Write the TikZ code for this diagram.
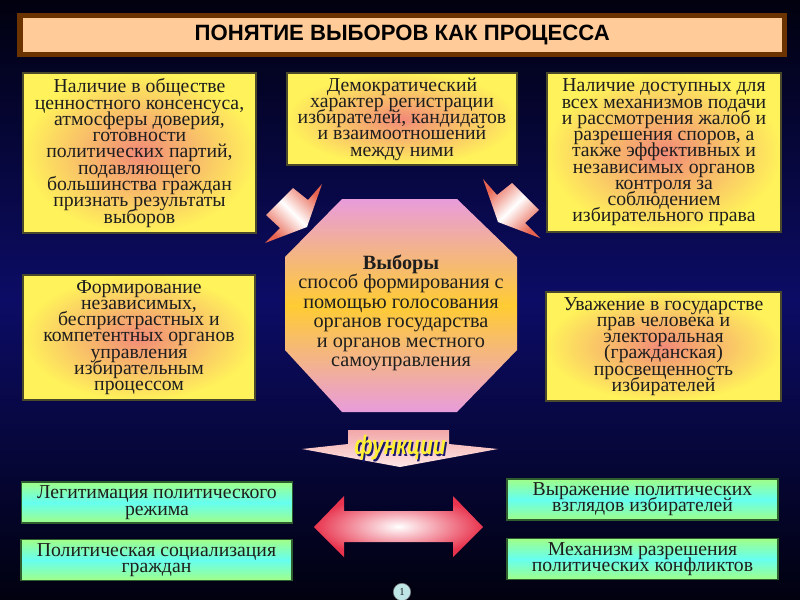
\documentclass[tikz,border=0pt]{standalone}
\usepackage{fontspec}
\setmainfont{Liberation Serif}
\setsansfont{Liberation Sans}
\usepackage{tikz}

\definecolor{bgdark}{HTML}{01010F}
\definecolor{bgnavy}{HTML}{0C0C66}
\definecolor{framebrown}{HTML}{6B3300}
\definecolor{peach}{HTML}{FFCC99}
\definecolor{boxyellow}{HTML}{FFF25A}
\definecolor{boxsalmon}{HTML}{F28A78}
\definecolor{boxedge}{HTML}{4A4A2A}
\definecolor{octpink}{HTML}{E89CDC}
\definecolor{octgold}{HTML}{FFCC33}
\definecolor{fngreen}{HTML}{A0FF88}
\definecolor{fncyan}{HTML}{66FFF0}
\definecolor{greenedge}{HTML}{2E5E2E}
\definecolor{arrowred}{HTML}{E8344E}
\definecolor{arrowsalmon}{HTML}{E86450}
\definecolor{bannerpink}{HTML}{F2A8A8}
\definecolor{bannerlight}{HTML}{FFE6E6}
\definecolor{fnyellow}{HTML}{FFF033}
\definecolor{fnnavy}{HTML}{1A1A70}
\definecolor{inktext}{HTML}{1E1E1E}
\definecolor{pagecyan}{HTML}{BFE6E6}

\newcommand{\boxfont}{\fontsize{14.8}{12.2}\selectfont\lineskiplimit=-50pt\relax}
\newcommand{\octfont}{\fontsize{15.2}{14.6}\selectfont\lineskiplimit=-50pt\relax}

\begin{document}
\begin{tikzpicture}[x=0.75pt, y=-0.75pt,
    every node/.style={inner sep=0pt, text=inktext},
    yellowbox/.style={draw=boxedge, line width=0.8pt, inner color=boxsalmon,
      outer color=boxyellow, align=center, font=\boxfont},
    greenbox/.style={draw=greenedge, line width=0.8pt, top color=fngreen,
      bottom color=fngreen, middle color=fncyan, align=center,
      minimum width=203.25pt, minimum height=30.75pt, font=\boxfont},
    smallarrow/.style={top color=arrowsalmon, bottom color=arrowsalmon, middle color=white}]
    \useasboundingbox (0, 0) rectangle (800, 600);
    \shade [top color=bgdark, bottom color=bgdark, middle color=bgnavy] (0, 0) rectangle (800, 600);

    \node [draw=framebrown, line width=4.1pt, fill=peach, minimum width=573.4pt,
      minimum height=29.25pt, text=black, font=\sffamily\bfseries\fontsize{16.6}{16.6}\selectfont]
      (title) at (402.25, 35) {ПОНЯТИЕ ВЫБОРОВ КАК ПРОЦЕССА};

    \node [yellowbox, minimum width=174.75pt, minimum height=120pt] (consensus) at (139.5, 153)
      {Наличие в обществе\\ценностного консенсуса,\\атмосферы доверия,\\готовности\\политических партий,\\подавляющего\\большинства граждан\\признать результаты\\выборов};
    \node [yellowbox, minimum width=172.5pt, minimum height=69pt] (registr) at (402, 119)
      {Демократический\\характер регистрации\\избирателей, кандидатов\\и взаимоотношений\\между ними};
    \node [yellowbox, minimum width=175.5pt, minimum height=119.25pt] (disputes) at (664, 152.5)
      {Наличие доступных для\\всех механизмов подачи\\и рассмотрения жалоб и\\разрешения споров, а\\также эффективных и\\независимых органов\\контроля за\\соблюдением\\избирательного права};
    \node [yellowbox, minimum width=174pt, minimum height=93.75pt] (organs) at (139, 337.5)
      {Формирование\\независимых,\\беспристрастных и\\компетентных органов\\управления\\избирательным\\процессом};
    \node [yellowbox, minimum width=176.25pt, minimum height=81.75pt] (respect) at (663.5, 346.5)
      {Уважение в государстве\\прав человека и\\электоральная\\(гражданская)\\просвещенность\\избирателей};

    \shade [smallarrow, shading angle=-45] (293, 188) -- (308, 200) -- (322, 184) -- (307, 227)
      -- (265, 243) -- (280, 228) -- (266, 215) -- cycle;
    \shade [smallarrow, shading angle=45] (512, 183) -- (497, 195) -- (483, 179) -- (498, 222)
      -- (540, 238) -- (525, 223) -- (539, 210) -- cycle;

    \shade [top color=octpink, bottom color=octpink, middle color=octgold]
      (342, 199) -- (457, 199) -- (517, 257) -- (517, 350) -- (457, 412) -- (342, 412)
      -- (285, 350) -- (285, 257) -- cycle;
    \node [align=center, font=\octfont] (vybory) at (401, 313)
      {\textbf{Выборы}\\способ формирования с\\помощью голосования\\органов государства\\и органов местного\\самоуправления};

    \shade [top color=bannerpink, bottom color=bannerlight] (348, 430) -- (449, 430) -- (449, 444)
      -- (498, 449) -- (400, 467) -- (302, 449) -- (348, 444) -- cycle;
    \node [text=fnnavy, font=\sffamily\bfseries\itshape\fontsize{20}{20}\selectfont]
      (fnshadow) at (401.8, 449.3) {\scalebox{0.78}[1]{функции}};
    \node [text=fnyellow, font=\sffamily\bfseries\itshape\fontsize{20}{20}\selectfont]
      (functions) at (400, 447.5) {\scalebox{0.78}[1]{функции}};

    \shade [inner color=white, outer color=arrowred] (314, 527) -- (344, 496) -- (344, 511)
      -- (453, 511) -- (453, 496) -- (483, 527) -- (453, 557) -- (453, 542) -- (344, 542)
      -- (344, 557) -- cycle;

    \node [greenbox] (legit) at (157, 502.5) {Легитимация политического\\режима};
    \node [greenbox] (social) at (156.5, 560) {Политическая социализация\\граждан};
    \node [greenbox] (views) at (642.5, 499.5) {Выражение политических\\взглядов избирателей};
    \node [greenbox] (conflicts) at (642.5, 559) {Механизм разрешения\\политических конфликтов};

    \node [circle, fill=pagecyan, draw=gray, line width=0.4pt, minimum size=13pt,
      font=\fontsize{8}{8}\selectfont] (page) at (402, 592) {1};
  \end{tikzpicture}
\end{document}
